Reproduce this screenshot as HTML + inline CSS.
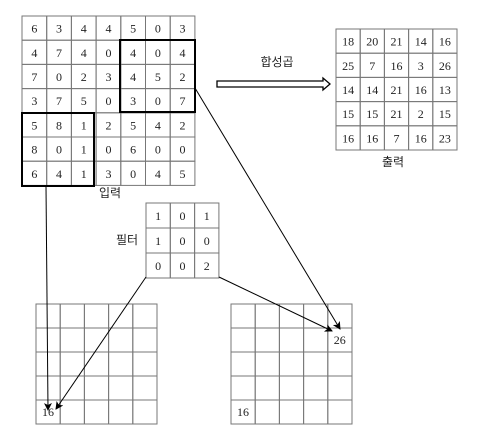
<!DOCTYPE html>
<html><head><meta charset="utf-8"><style>
body{margin:0;background:#fff;}
svg{display:block;}
.n{font-family:"Liberation Serif",serif;font-size:12px;fill:#222;text-anchor:middle;}
.k{font-family:"Liberation Sans","Noto Sans CJK KR",sans-serif;font-size:12px;fill:#222;text-anchor:middle;}
</style></head><body>
<svg id="c" width="479" height="436" viewBox="0 0 479 436" xmlns="http://www.w3.org/2000/svg">
<defs><marker id="ah" markerWidth="8" markerHeight="8" refX="7" refY="4" orient="auto" markerUnits="userSpaceOnUse"><path d="M0,0 L8,4 L0,8 L2,4 Z" fill="#000"/></marker></defs>
<g id="g"></g>
<text class="k" x="110" y="197">입력</text>
<text class="k" x="393" y="166">출력</text>
<text class="k" x="277" y="66">합성곱</text>
<text class="k" x="127" y="244">필터</text>
<g>
<path d="M217,81 L323,81 L323,78 L330,84 L323,90 L323,87 L217,87 Z" fill="#fff" stroke="#000" stroke-width="1.3"/>
</g>
<rect x="120" y="40" width="75" height="72" fill="none" stroke="#000" stroke-width="2"/>
<rect x="22" y="113" width="72" height="73" fill="none" stroke="#000" stroke-width="2"/>
<line x1="46" y1="186" x2="48" y2="410" stroke="#000" marker-end="url(#ah)"/>
<line x1="146" y1="277" x2="56" y2="409" stroke="#000" marker-end="url(#ah)"/>
<line x1="195" y1="88" x2="340" y2="329" stroke="#000" marker-end="url(#ah)"/>
<line x1="219" y1="277" x2="332" y2="331" stroke="#000" marker-end="url(#ah)"/>
</svg>
<script>
const inputVals=[[6,3,4,4,5,0,3],[4,7,4,0,4,0,4],[7,0,2,3,4,5,2],[3,7,5,0,3,0,7],[5,8,1,2,5,4,2],[8,0,1,0,6,0,0],[6,4,1,3,0,4,5]];
const outputVals=[[18,20,21,14,16],[25,7,16,3,26],[14,14,21,16,13],[15,15,21,2,15],[16,16,7,16,23]];
const filterVals=[[1,0,1],[1,0,0],[0,0,2]];
const resultLeft=[["","","","",""],["","","","",""],["","","","",""],["","","","",""],["16","","","",""]];
const resultRight=[["","","","",""],["","","","","26"],["","","","",""],["","","","",""],["16","","","",""]];
const g=document.getElementById('g');
const NS='http://www.w3.org/2000/svg';
function grid(name,vals,x0,y0,cw,ch,anchorTL){
  const grp=document.createElementNS(NS,'g');
  
  
  g.appendChild(grp);
  vals.forEach((row,r)=>row.forEach((v,c)=>{
    const rc=document.createElementNS(NS,'rect');
    rc.setAttribute('x',x0+c*cw);rc.setAttribute('y',y0+r*ch);
    rc.setAttribute('width',cw);rc.setAttribute('height',ch);
    rc.setAttribute('fill','none');rc.setAttribute('stroke','#777');rc.setAttribute('stroke-width','1');
    
    
    grp.appendChild(rc);
    if(v!==""){
      const t=document.createElementNS(NS,'text');
      t.setAttribute('class','n');
      if(anchorTL){t.setAttribute('x',x0+c*cw+12);t.setAttribute('y',y0+r*ch+16);}
      else{t.setAttribute('x',x0+c*cw+cw/2);t.setAttribute('y',y0+r*ch+ch/2+4.5);}
      t.textContent=v;
      
      
      grp.appendChild(t);
    }
  }));
}
grid('input-grid',inputVals,22,16,24.7,24.2,false);
grid('output-grid',outputVals,336,29,24.2,24.2,false);
grid('filter-grid',filterVals,146,203,24.3,25,false);
grid('result-left-grid',resultLeft,36,304,24.2,24,true);
grid('result-right-grid',resultRight,231,304,24.2,24,true);
</script>
</body></html>
